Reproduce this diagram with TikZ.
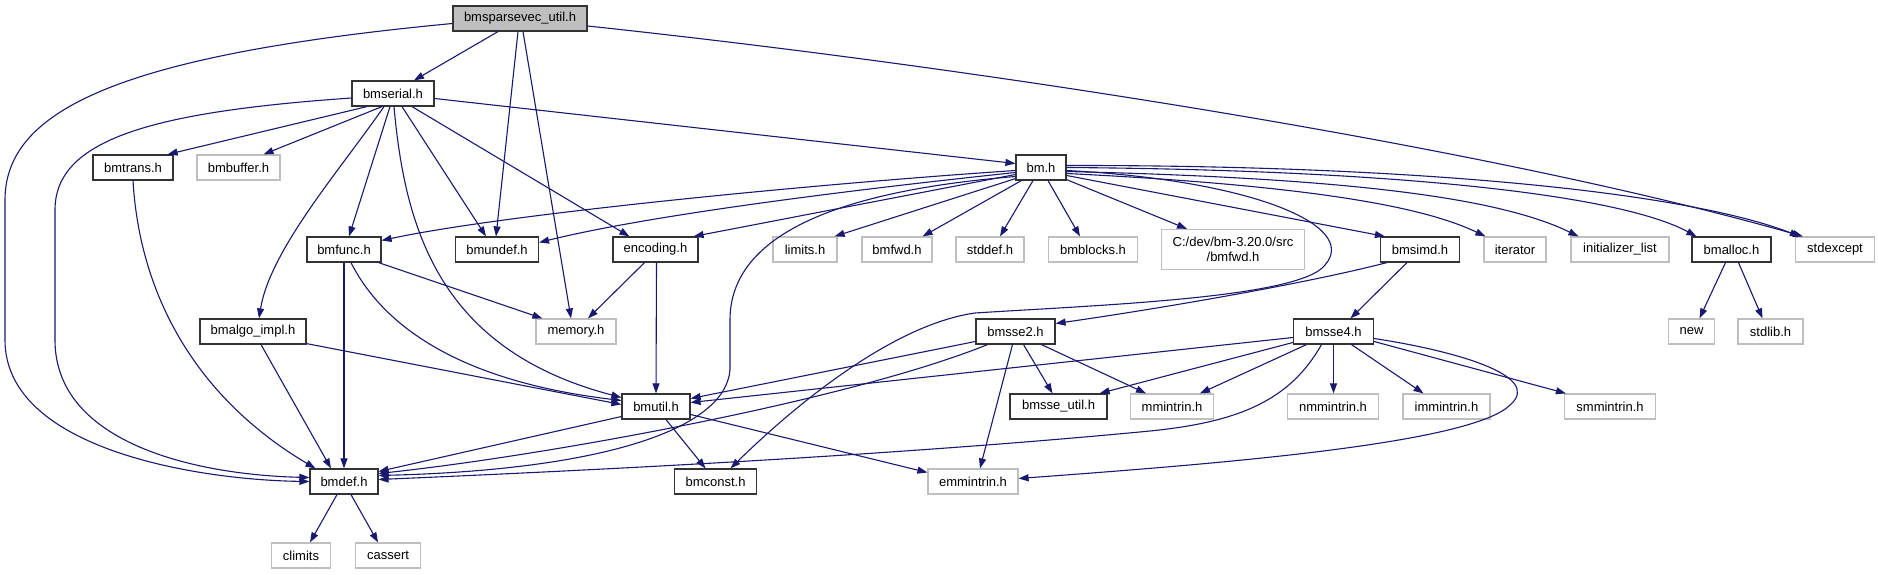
\documentclass[tikz,border=0pt]{standalone}
\usepackage{fontspec}
\setmainfont{Liberation Sans}
\usetikzlibrary{arrows.meta}
\definecolor{edgecol}{RGB}{25,25,112}
\definecolor{extgray}{RGB}{191,191,191}
\begin{document}
\begin{tikzpicture}[x=1pt,y=-1pt,
  hdr/.style={draw=black!80, line width=1.2pt, fill=white, inner sep=0pt, minimum height=25pt, font=\fontsize{13}{15}\selectfont, align=center},
  ext/.style={hdr, draw=extgray},
  dep/.style={draw=edgecol, line width=1.1pt, -{Triangle[length=10pt,width=7pt]}}]
\useasboundingbox (0,0) rectangle (1878,575);
\fill[white] (0,0) rectangle (1878,575);
% nodes
\node[hdr, fill=extgray, minimum width=134pt] (root) at (520,18.5) {bmsparsevec\_util.h};
\node[hdr, minimum width=82pt] (bmserial) at (393,93.5) {bmserial.h};
\node[hdr, minimum width=80pt] (bmtrans) at (133,167.5) {bmtrans.h};
\node[ext, minimum width=83pt] (bmbuffer) at (238.5,167.5) {bmbuffer.h};
\node[hdr, minimum width=50pt] (bm) at (1041,167.5) {bm.h};
\node[hdr, minimum width=74pt] (bmfunc) at (344,249.5) {bmfunc.h};
\node[hdr, minimum width=83pt] (bmundef) at (497,249.5) {bmundef.h};
\node[hdr, minimum width=85pt] (encoding) at (655.5,249.5) {encoding.h};
\node[ext, minimum width=64pt] (limits) at (805,249.5) {limits.h};
\node[ext, minimum width=70pt] (bmfwd) at (897,249.5) {bmfwd.h};
\node[ext, minimum width=68pt] (stddef) at (990,249.5) {stddef.h};
\node[ext, minimum width=89pt] (bmblocks) at (1093,249.5) {bmblocks.h};
\node[ext, minimum width=143pt, minimum height=40pt] (cdev) at (1233,249.5) {C:/dev/bm-3.20.0/src\\/bmfwd.h};
\node[hdr, minimum width=79pt] (bmsimd) at (1420,249.5) {bmsimd.h};
\node[ext, minimum width=62pt] (iterator) at (1515,249.5) {iterator};
\node[ext, minimum width=98pt] (initlist) at (1620,249.5) {initializer\_list};
\node[hdr, minimum width=79pt] (bmalloc) at (1731.5,249.5) {bmalloc.h};
\node[ext, minimum width=79pt] (stdexcept) at (1835,249.5) {stdexcept};
\node[hdr, minimum width=106pt] (bmalgo) at (253,331.5) {bmalgo\_impl.h};
\node[ext, minimum width=80pt] (memory) at (576,331.5) {memory.h};
\node[hdr, minimum width=79pt] (bmsse2) at (1015.5,331.5) {bmsse2.h};
\node[hdr, minimum width=80pt] (bmsse4) at (1333.5,331.5) {bmsse4.h};
\node[ext, minimum width=46pt] (newh) at (1691.5,331.5) {new};
\node[ext, minimum width=65pt] (stdlib) at (1770.5,331.5) {stdlib.h};
\node[hdr, minimum width=68pt] (bmutil) at (656,406.5) {bmutil.h};
\node[hdr, minimum width=97pt] (bmsseutil) at (1058.5,406.5) {bmsse\_util.h};
\node[ext, minimum width=83pt] (mmintrin) at (1172,406.5) {mmintrin.h};
\node[ext, minimum width=91pt] (nmmintrin) at (1333,406.5) {nmmintrin.h};
\node[ext, minimum width=87pt] (immintrin) at (1446.5,406.5) {immintrin.h};
\node[ext, minimum width=91pt] (smmintrin) at (1610,406.5) {smmintrin.h};
\node[hdr, minimum width=68pt] (bmdef) at (344,481.5) {bmdef.h};
\node[hdr, minimum width=82pt] (bmconst) at (715.5,481.5) {bmconst.h};
\node[ext, minimum width=90pt] (emmintrin) at (973,481.5) {emmintrin.h};
\node[ext, minimum width=59pt] (climits) at (301,555.5) {climits};
\node[ext, minimum width=65pt] (cassert) at (388,555.5) {cassert};
% root edges
\draw[dep] ([xshift=-22pt]root.south) -- ([xshift=21pt]bmserial.north);
\draw[dep] ([yshift=-5pt]root.west) .. controls (120,55) and (5,110) .. (5,200) -- (5,340) .. controls (5,450) and (200,480) .. (bmdef.west);
\draw[dep] ([xshift=-2pt]root.south) -- ([xshift=-1pt]bmundef.north);
\draw[dep] ([xshift=3pt]root.south) -- ([xshift=-5pt]memory.north);
\draw[dep] ([yshift=-7.5pt]root.east) .. controls (1000,70) and (1500,150) .. ([xshift=8pt]stdexcept.north west);
% bmserial edges
\draw[dep] ([xshift=-26pt]bmserial.south) -- ([xshift=-6pt]bmtrans.north east);
\draw[dep] ([xshift=-11pt]bmserial.south) -- ([xshift=25pt]bmbuffer.north);
\draw[dep] ([yshift=-5pt]bmserial.east) -- ([yshift=4pt]bm.west);
\draw[dep] ([yshift=-4.5pt]bmserial.west) .. controls (150,112) and (55,140) .. (55,210) -- (55,340) .. controls (55,445) and (200,475) .. ([yshift=4pt]bmdef.west);
\draw[dep] ([xshift=-3pt]bmserial.south) -- ([xshift=5pt]bmfunc.north);
\draw[dep] ([xshift=9pt]bmserial.south) -- ([xshift=-11pt]bmundef.north);
\draw[dep] ([xshift=19pt]bmserial.south) -- ([xshift=17pt]encoding.north west);
\draw[dep] ([xshift=-9pt]bmserial.south) .. controls (340,170) and (270,250) .. ([xshift=6pt]bmalgo.north);
\draw[dep] ([xshift=1pt]bmserial.south) .. controls (405,230) and (440,350) .. ([yshift=9pt]bmutil.west);
% bm edges
\draw[dep] ([yshift=-3pt]bm.west) .. controls (800,185) and (500,215) .. ([yshift=9pt]bmfunc.east);
\draw[dep] ([yshift=-5pt]bm.west) .. controls (850,190) and (650,215) .. ([yshift=7pt]bmundef.east);
\draw[dep] ([yshift=-7pt]bm.west) -- ([xshift=-5pt]encoding.north east);
\draw[dep] ([yshift=-9pt]bm.west) .. controls (850,190) and (730,230) .. (730,320) -- (730,370) .. controls (725,430) and (600,470) .. ([yshift=6pt]bmdef.east);
\draw[dep] ([yshift=2pt]bm.south west) -- ([xshift=-3pt]limits.north east);
\draw[dep] ([xshift=6pt]bm.south west) -- ([xshift=-10pt]bmfwd.north east);
\draw[dep] ([xshift=-8pt]bm.south) -- ([xshift=10pt]stddef.north);
\draw[dep] ([xshift=7pt]bm.south) -- ([xshift=-13pt]bmblocks.north);
\draw[dep] ([yshift=1pt]bm.south east) -- ([xshift=-46pt]cdev.north);
\draw[dep] ([yshift=-8pt]bm.east) -- ([xshift=5pt]bmsimd.north west);
\draw[dep] ([yshift=-6pt]bm.east) .. controls (1300,185) and (1420,205) .. ([xshift=2pt]iterator.north west);
\draw[dep] ([yshift=-4pt]bm.east) .. controls (1350,178) and (1500,198) .. ([xshift=8pt]initlist.north west);
\draw[dep] ([yshift=0pt]bm.east) .. controls (1400,170) and (1620,195) .. ([xshift=5pt]bmalloc.north west);
\draw[dep] ([yshift=2pt]bm.east) .. controls (1400,165) and (1680,190) .. ([xshift=5pt]stdexcept.north west);
\draw[dep] ([yshift=-3pt]bm.east) .. controls (1250,180) and (1360,225) .. (1325,265) .. controls (1300,298) and (1100,305) .. (975,313) .. controls (890,325) and (790,410) .. ([xshift=15pt]bmconst.north);
% bmsimd, bmalloc
\draw[dep] ([xshift=7pt]bmsimd.south west) .. controls (1300,285) and (1150,310) .. ([yshift=8pt]bmsse2.east);
\draw[dep] ([xshift=-13pt]bmsimd.south) -- ([xshift=17pt]bmsse4.north);
\draw[dep] ([xshift=-6pt]bmalloc.south) -- ([xshift=8pt]newh.north);
\draw[dep] ([xshift=7pt]bmalloc.south) -- ([xshift=-8pt]stdlib.north);
% bmfunc, encoding, bmalgo, bmtrans
\draw[dep] ([xshift=-3pt]bmfunc.south east) -- ([xshift=7pt]memory.north west);
\draw[dep] (bmfunc.south) -- (bmdef.north);
\draw[dep] ([xshift=7pt]bmfunc.south) .. controls (380,320) and (450,380) .. ([yshift=6pt]bmutil.west);
\draw[dep] ([xshift=-11pt]encoding.south) -- ([xshift=12pt]memory.north);
\draw[dep] ([xshift=1pt]encoding.south) -- (bmutil.north);
\draw[dep] ([xshift=8pt]bmalgo.south) -- ([xshift=-13pt]bmdef.north);
\draw[dep] ([yshift=1pt]bmalgo.south east) -- ([yshift=2pt]bmutil.west);
\draw[dep] (bmtrans.south) .. controls (140,300) and (200,400) .. ([xshift=6pt]bmdef.north west);
% bmsse2
\draw[dep] ([yshift=-10pt]bmsse2.west) -- ([yshift=8pt]bmutil.east);
\draw[dep] ([xshift=-28pt]bmsse2.south) .. controls (850,400) and (550,455) .. ([yshift=8pt]bmdef.east);
\draw[dep] ([xshift=-3pt]bmsse2.south) -- ([xshift=7pt]emmintrin.north);
\draw[dep] ([xshift=8pt]bmsse2.south) -- ([xshift=-6pt]bmsseutil.north);
\draw[dep] ([xshift=26pt]bmsse2.south) -- ([xshift=-26pt]mmintrin.north);
% bmsse4
\draw[dep] ([yshift=-6pt]bmsse4.west) -- ([yshift=4pt]bmutil.east);
\draw[dep] ([yshift=-11pt]bmsse4.west) -- ([xshift=-8pt]bmsseutil.north east);
\draw[dep] ([xshift=-27pt]bmsse4.south) -- ([xshift=28pt]mmintrin.north);
\draw[dep] ([xshift=-12pt]bmsse4.south) .. controls (1290,400) and (1240,422) .. (1150,431) .. controls (900,455) and (600,470) .. ([yshift=2pt]bmdef.east);
\draw[dep] (bmsse4.south) -- (bmsse4.south |- nmmintrin.north);
\draw[dep] ([xshift=18pt]bmsse4.south) -- ([xshift=-23pt]immintrin.north);
\draw[dep] ([yshift=-10pt]bmsse4.east) -- ([xshift=2pt]smmintrin.north west);
\draw[dep] ([yshift=-7pt]bmsse4.east) .. controls (1450,350) and (1545,375) .. (1510,405) .. controls (1470,445) and (1200,465) .. ([yshift=3pt]emmintrin.east);
% bmutil, bmdef
\draw[dep] ([yshift=-10pt]bmutil.west) -- ([yshift=10pt]bmdef.east);
\draw[dep] ([xshift=10pt]bmutil.south) -- ([xshift=-10pt]bmconst.north);
\draw[dep] ([yshift=-8pt]bmutil.east) -- ([yshift=9pt]emmintrin.west);
\draw[dep] ([xshift=-7pt]bmdef.south) -- ([xshift=9pt]climits.north);
\draw[dep] ([xshift=7pt]bmdef.south) -- ([xshift=-10pt]cassert.north);
\end{tikzpicture}
\end{document}
